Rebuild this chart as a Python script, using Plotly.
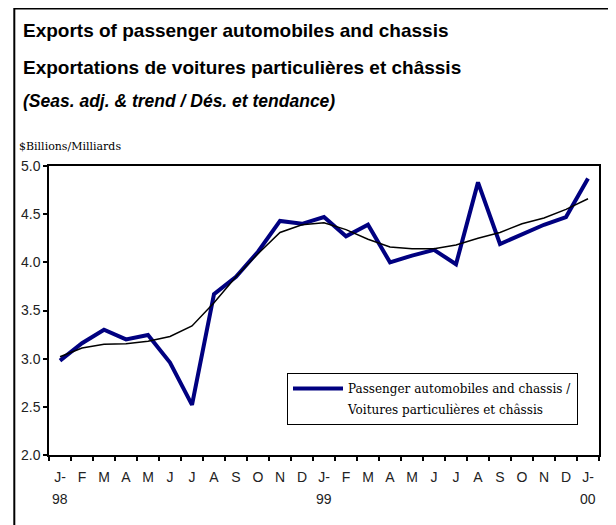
import plotly.graph_objects as go

# ---- data ----
months = ["1998-01", "1998-02", "1998-03", "1998-04", "1998-05", "1998-06",
          "1998-07", "1998-08", "1998-09", "1998-10", "1998-11", "1998-12",
          "1999-01", "1999-02", "1999-03", "1999-04", "1999-05", "1999-06",
          "1999-07", "1999-08", "1999-09", "1999-10", "1999-11", "1999-12",
          "2000-01"]
month_labels = ["J-", "F", "M", "A", "M", "J", "J", "A", "S", "O", "N", "D",
                "J-", "F", "M", "A", "M", "J", "J", "A", "S", "O", "N", "D",
                "J-"]
year_labels = ["98", "99", "00"]
year_positions = ["1998-01", "1999-01", "2000-01"]
seas_adj = [2.98, 3.16, 3.30, 3.20, 3.245, 2.96, 2.52, 3.67, 3.85, 4.11, 4.43, 4.40,
            4.47, 4.27, 4.39, 4.00, 4.07, 4.13, 3.98, 4.83, 4.19, 4.29, 4.39, 4.47,
            4.87]
trend = [3.02, 3.11, 3.15, 3.155, 3.18, 3.23, 3.34, 3.58, 3.85, 4.09, 4.31, 4.39,
         4.41, 4.34, 4.24, 4.16, 4.14, 4.14, 4.18, 4.25, 4.31, 4.40, 4.46, 4.55,
         4.66]

legend_line1 = "Passenger automobiles and chassis /"
legend_line2 = "Voitures particulières et châssis"

# ---- layout geometry (screen pixels; page body adds an 8px offset) ----
OFF = 8
W, H = 616, 525
L, T = 49 - OFF, 166 - OFF
R = W - (599 - OFF)
B = H - (455 - OFF)
PW, PH = W - L - R, H - T - B

def px(x):
    return (x - OFF - L) / PW

def py(y):
    return (H - B - (y - OFF)) / PH

fig = go.Figure()
fig.add_trace(go.Scatter(x=months, y=seas_adj, mode="lines", name=legend_line1,
                         legendgroup="a", line=dict(color="#000080", width=4)))
# second legend line (text only, no marks)
fig.add_trace(go.Scatter(x=[None], y=[None], mode="lines", name=legend_line2,
                         legendgroup="b", line=dict(color="rgba(0,0,0,0)", width=0),
                         hoverinfo="skip"))
fig.add_trace(go.Scatter(x=months, y=trend, mode="lines", showlegend=False,
                         line=dict(color="black", width=1.5)))

sans = "Liberation Sans, Arial, sans-serif"
serif = "DejaVu Serif, serif"
n = len(months)

fig.update_layout(
    width=W, height=H,
    margin=dict(l=L, r=R, t=T, b=B, pad=0),
    paper_bgcolor="white", plot_bgcolor="white",
    showlegend=True,
    legend=dict(x=px(287), y=py(373), xanchor="left", yanchor="top",
                bgcolor="white", bordercolor="black", borderwidth=1,
                font=dict(family=serif, size=12, color="black"),
                traceorder="grouped", tracegroupgap=2, itemwidth=50),
    xaxis=dict(type="category", categoryarray=months, range=[-0.5, n - 0.5],
               tickmode="array", tickvals=months, ticktext=month_labels,
               tickangle=0,
               tickson="boundaries", ticks="outside", ticklen=4, tickwidth=1.5,
               tickcolor="black", showline=True, linecolor="black", linewidth=1.5,
               mirror=True, showgrid=False, zeroline=False,
               tickfont=dict(family=sans, size=14, color="#222"),
               ticklabelstandoff=8),
    xaxis2=dict(overlaying="x", range=[-0.5, n - 0.5],
                tickmode="array", tickvals=[i - 0.5 for i in range(n)],
                ticks="inside", ticklen=4, tickwidth=1.5, tickcolor="black",
                showticklabels=False, showgrid=False, zeroline=False,
                showline=False, side="bottom", anchor="y"),
    yaxis=dict(range=[2, 5], dtick=0.5, tickformat=".1f", ticks="outside",
               ticklen=4, tickwidth=1.5, tickcolor="black", showline=True,
               linecolor="black", linewidth=1.5, mirror=True, showgrid=False,
               zeroline=False, tickfont=dict(family=sans, size=14, color="#222")),
)

# year labels under the January ticks
for pos, lab in zip(year_positions, year_labels):
    fig.add_annotation(text=lab, xref="x", yref="paper", x=pos, y=py(499),
                       xanchor="center", yanchor="middle", showarrow=False,
                       font=dict(family=sans, size=14, color="#222"))

# frame around the chart (left and top visible)
fig.add_shape(type="line", xref="paper", yref="paper", x0=px(14.3), x1=px(14.3),
              y0=py(7.5), y1=py(560), line=dict(color="black", width=2))
fig.add_shape(type="line", xref="paper", yref="paper", x0=px(14.3), x1=px(660),
              y0=py(8.5), y1=py(8.5), line=dict(color="black", width=2))

titles = [
    ("<b>Exports of passenger automobiles and chassis</b>", 31, 19),
    ("<b>Exportations de voitures particulières et châssis</b>", 68, 19),
    ("<b><i>(Seas. adj. & trend / Dés. et tendance)</i></b>", 101, 17.5),
]
for text, yc, size in titles:
    fig.add_annotation(text=text, xref="paper", yref="paper", x=px(21), y=py(yc),
                       xanchor="left", yanchor="middle", showarrow=False,
                       font=dict(family=sans, size=size, color="black"))

fig.add_annotation(text="$Billions/Milliards", xref="paper", yref="paper",
                   x=px(17), y=py(146), xanchor="left", yanchor="middle",
                   showarrow=False, font=dict(family=serif, size=11, color="black"))

fig.write_html("out.html")
